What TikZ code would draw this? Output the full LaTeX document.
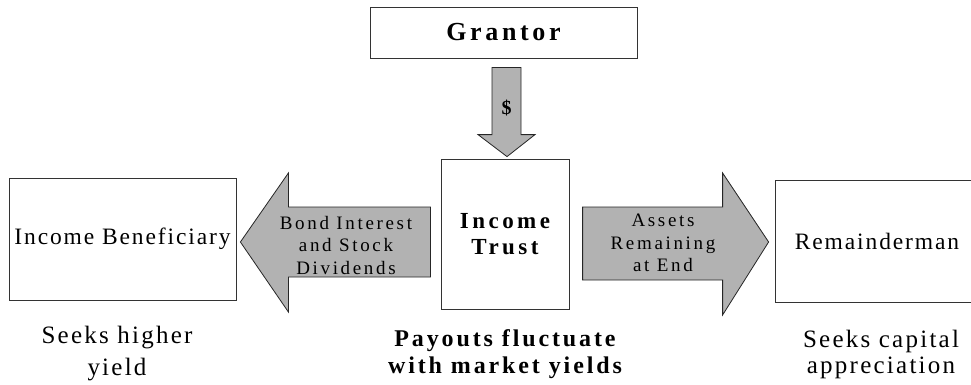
\documentclass[tikz,border=0pt]{standalone}
\usepackage{fontspec}
\setmainfont{Liberation Serif}
\usepackage{tikz}

\tikzset{
  box/.style = {draw=black!80, line width=0.8pt, fill=white,
    inner sep=0pt, align=center},
  blockarrow/.style = {draw=black!85, line width=0.8pt, fill=black!30,
    line join=miter},
  plain/.style = {align=center, inner sep=0pt,
    font=\fontsize{23.5}{26}\selectfont\addfontfeatures{LetterSpace=8}},
  heavy/.style = {align=center, inner sep=0pt,
    font=\fontsize{23}{26}\selectfont\bfseries\addfontfeatures{LetterSpace=15}},
  small/.style = {align=center, inner sep=0pt,
    font=\fontsize{19}{22.5}\selectfont\addfontfeatures{LetterSpace=14}}
}

\begin{document}
\begin{tikzpicture}[x=1pt, y=-1pt]
\useasboundingbox (0,0) rectangle (971,385);
\clip (0,0) rectangle (971,385);

% the four boxes
\node[box, minimum width=267pt, minimum height=51pt,
  font=\fontsize{26}{30}\selectfont\bfseries\addfontfeatures{LetterSpace=14}]
  (grantor) at (503.5,32.5) {Grantor};
\node[box, heavy, minimum width=128pt, minimum height=150pt]
  (trust) at (505,234) {Income\\Trust};
\node[box, plain, minimum width=227pt, minimum height=122pt]
  (benef) at (122.5,239) {Income Beneficiary};
\node[box, plain, minimum width=204pt, minimum height=122pt]
  (remain) at (877,241) {Remainderman};

% block arrows
\draw[blockarrow, shift={(trust.north)}]
  (-13,-91) -- (16,-91) -- (16,-24) -- (30,-24) -- (2,-2)
  -- (-27,-24) -- (-13,-24) -- cycle;
\draw[blockarrow, shift={(benef.east)}]
  (4,3) -- (52,-66) -- (52,-32) -- (194,-32) -- (194,38)
  -- (52,38) -- (52,73) -- cycle;
\draw[blockarrow, shift={(remain.west)}]
  (-6,1) -- (-52,-68) -- (-52,-34) -- (-192,-34) -- (-192,39)
  -- (-52,39) -- (-52,74) -- cycle;

% arrow labels
\node[font=\fontsize{20}{24}\selectfont\bfseries] (cash) at (506.5,108) {\$};
\node[small] (paid) at (346,245) {Bond Interest\\and Stock\\Dividends};
\node[small] (left) at (663,243) {Assets\\Remaining\\at End};

% notes below
\node[plain, font=\fontsize{25}{32}\selectfont\addfontfeatures{LetterSpace=9}]
  (wantsyield) at (117,354) {Seeks higher\\yield};
\node[heavy, font=\fontsize{24}{27}\selectfont\bfseries\addfontfeatures{LetterSpace=12}]
  (payouts) at (505,354.5) {Payouts fluctuate\\with market yields};
\node[plain, font=\fontsize{25}{26}\selectfont\addfontfeatures{LetterSpace=9}]
  (wantsgrowth) at (881,354) {Seeks capital\\appreciation};
\end{tikzpicture}
\end{document}
